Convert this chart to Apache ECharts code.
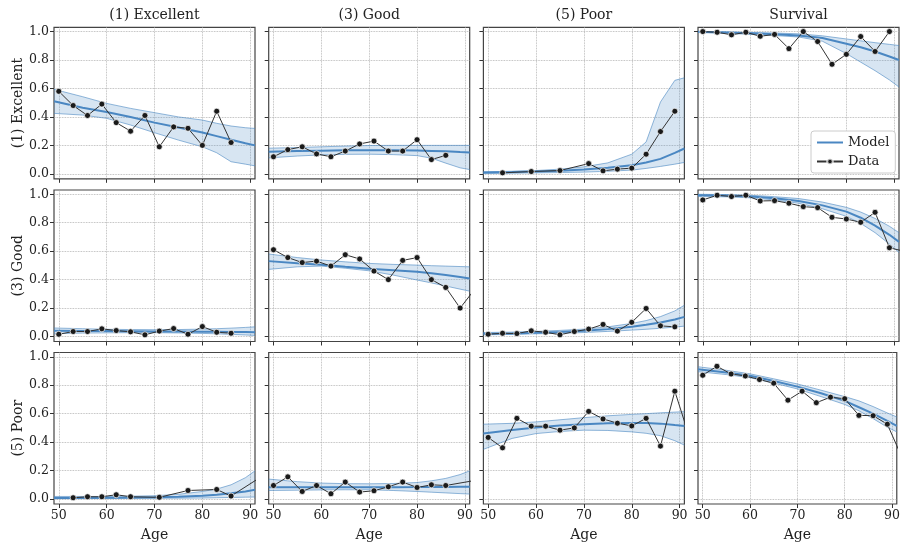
<!DOCTYPE html>
<html>
<head>
<meta charset="utf-8">
<script src="https://cdn.jsdelivr.net/npm/echarts@6/dist/echarts.min.js"></script>
<style>
  html, body { margin: 0; padding: 0; background: #fff; }
  #chart { width: 903px; height: 544px; }
</style>
</head>
<body>
<div id="chart"></div>
<script>
// ages of the observed points (every 3 years)
const dataAges = [50, 53, 56, 59, 62, 65, 68, 71, 74, 77, 80, 83, 86, 89, 92]
// ages where the fitted model and its band were read
const modelAges = [49, 55, 60, 65, 70, 75, 80, 83, 86, 89, 91]
const rowNames = ['(1) Excellent', '(3) Good', '(5) Poor']
const colNames = ['(1) Excellent', '(3) Good', '(5) Poor', 'Survival']
const xTicks = [50, 60, 70, 80, 90]
const yTicks = [0, 0.2, 0.4, 0.6, 0.8, 1.0]

// observed rates, one list per panel (row by row), null = no point at that age
const observed = [
  [0.58, 0.48, 0.41, 0.49, 0.36, 0.30, 0.41, 0.19, 0.33, 0.32, 0.20, 0.44, 0.22, null, null],
  [0.12, 0.17, 0.19, 0.14, 0.12, 0.16, 0.21, 0.23, 0.16, 0.16, 0.24, 0.10, 0.13, null, null],
  [null, 0.007, null, 0.016, null, 0.023, null, 0.072, 0.021, 0.033, 0.04, 0.138, 0.297, 0.44, null],
  [1.0, 0.995, 0.977, 0.995, 0.967, 0.98, 0.88, 1.0, 0.93, 0.77, 0.84, 0.965, 0.86, 1.0, null],

  [0.016, 0.035, 0.035, 0.054, 0.042, 0.033, 0.012, 0.038, 0.056, 0.016, 0.07, 0.03, 0.023, null, null],
  [0.61, 0.555, 0.52, 0.53, 0.495, 0.575, 0.545, 0.46, 0.40, 0.535, 0.555, 0.40, 0.345, 0.20, 0.33],
  [0.016, 0.023, 0.021, 0.04, 0.03, 0.012, 0.035, 0.052, 0.085, 0.038, 0.10, 0.197, 0.075, 0.068, null],
  [0.96, 0.993, 0.984, 0.993, 0.953, 0.955, 0.937, 0.913, 0.906, 0.838, 0.826, 0.803, 0.873, 0.624, 0.60],

  [null, 0.009, 0.016, 0.016, 0.03, 0.016, null, 0.012, null, 0.06, null, 0.067, 0.021, null, 0.15],
  [0.095, 0.156, 0.053, 0.095, 0.037, 0.119, 0.049, 0.058, 0.086, 0.119, 0.081, 0.10, 0.095, null, 0.13],
  [0.433, 0.36, 0.567, 0.512, 0.512, 0.484, 0.50, 0.616, 0.563, 0.533, 0.514, 0.567, 0.372, 0.758, 0.44],
  [0.87, 0.933, 0.879, 0.865, 0.84, 0.814, 0.695, 0.758, 0.677, 0.716, 0.705, 0.588, 0.586, 0.526, 0.30]
]

// model curve
const modelMid = [
  [0.51, 0.465, 0.435, 0.40, 0.36, 0.325, 0.29, 0.265, 0.24, 0.215, 0.20],
  [0.155, 0.16, 0.163, 0.165, 0.166, 0.166, 0.164, 0.161, 0.158, 0.153, 0.15],
  [0.009, 0.012, 0.016, 0.022, 0.030, 0.043, 0.061, 0.08, 0.105, 0.147, 0.178],
  [0.998, 0.994, 0.988, 0.981, 0.972, 0.955, 0.915, 0.89, 0.86, 0.825, 0.80],

  [0.04, 0.039, 0.038, 0.037, 0.036, 0.035, 0.034, 0.033, 0.032, 0.031, 0.03],
  [0.53, 0.515, 0.505, 0.49, 0.477, 0.466, 0.455, 0.445, 0.432, 0.418, 0.408],
  [0.019, 0.022, 0.026, 0.032, 0.04, 0.052, 0.068, 0.082, 0.098, 0.12, 0.138],
  [0.993, 0.992, 0.985, 0.972, 0.953, 0.922, 0.878, 0.835, 0.78, 0.715, 0.665],

  [0.007, 0.008, 0.009, 0.01, 0.012, 0.016, 0.023, 0.03, 0.04, 0.053, 0.065],
  [0.082, 0.082, 0.082, 0.082, 0.082, 0.083, 0.084, 0.085, 0.085, 0.086, 0.086],
  [0.46, 0.485, 0.502, 0.516, 0.526, 0.532, 0.535, 0.534, 0.53, 0.52, 0.514],
  [0.912, 0.89, 0.867, 0.83, 0.79, 0.743, 0.69, 0.645, 0.60, 0.55, 0.515]
]

// upper edge of the band
const modelHigh = [
  [0.594, 0.542, 0.495, 0.46, 0.43, 0.40, 0.378, 0.355, 0.336, 0.324, 0.319],
  [0.18, 0.185, 0.19, 0.195, 0.199, 0.20, 0.20, 0.20, 0.20, 0.20, 0.20],
  [0.014, 0.018, 0.023, 0.033, 0.049, 0.077, 0.138, 0.224, 0.505, 0.657, 0.675],
  [1.0, 0.997, 0.993, 0.99, 0.984, 0.97, 0.948, 0.935, 0.922, 0.91, 0.902],

  [0.06, 0.055, 0.051, 0.049, 0.048, 0.049, 0.052, 0.055, 0.059, 0.064, 0.068],
  [0.58, 0.555, 0.538, 0.525, 0.514, 0.507, 0.502, 0.498, 0.495, 0.492, 0.49],
  [0.028, 0.031, 0.036, 0.043, 0.052, 0.068, 0.092, 0.112, 0.14, 0.18, 0.22],
  [1.0, 0.998, 0.993, 0.983, 0.97, 0.945, 0.908, 0.875, 0.83, 0.775, 0.73],

  [0.018, 0.018, 0.018, 0.02, 0.023, 0.033, 0.053, 0.07, 0.10, 0.15, 0.198],
  [0.14, 0.122, 0.112, 0.108, 0.107, 0.109, 0.116, 0.128, 0.145, 0.172, 0.198],
  [0.526, 0.532, 0.542, 0.557, 0.572, 0.585, 0.595, 0.60, 0.606, 0.611, 0.614],
  [0.93, 0.905, 0.88, 0.845, 0.809, 0.765, 0.72, 0.69, 0.65, 0.605, 0.577]
]

// lower edge of the band
const modelLow = [
  [0.425, 0.413, 0.39, 0.343, 0.289, 0.237, 0.19, 0.148, 0.085, 0.068, 0.056],
  [0.112, 0.125, 0.133, 0.137, 0.138, 0.135, 0.128, 0.11, 0.075, 0.042, 0.03],
  [0.002, 0.004, 0.007, 0.009, 0.012, 0.018, 0.026, 0.038, 0.052, 0.068, 0.08],
  [0.993, 0.988, 0.98, 0.972, 0.962, 0.932, 0.845, 0.785, 0.725, 0.66, 0.61],

  [0.02, 0.024, 0.026, 0.027, 0.027, 0.025, 0.022, 0.019, 0.015, 0.011, 0.008],
  [0.472, 0.49, 0.495, 0.48, 0.462, 0.432, 0.397, 0.377, 0.355, 0.333, 0.319],
  [0.012, 0.015, 0.019, 0.023, 0.028, 0.036, 0.045, 0.051, 0.058, 0.066, 0.073],
  [0.984, 0.982, 0.975, 0.96, 0.937, 0.898, 0.845, 0.795, 0.73, 0.65, 0.59],

  [0.002, 0.003, 0.004, 0.004, 0.005, 0.006, 0.007, 0.009, 0.011, 0.013, 0.014],
  [0.06, 0.062, 0.064, 0.065, 0.065, 0.06, 0.053, 0.048, 0.043, 0.038, 0.035],
  [0.349, 0.426, 0.46, 0.475, 0.484, 0.482, 0.472, 0.462, 0.445, 0.41, 0.379],
  [0.895, 0.875, 0.853, 0.815, 0.774, 0.72, 0.665, 0.62, 0.565, 0.505, 0.472]
]

const FONT = 'DejaVu Serif'
const BLUE = '#4a87c2'
const panelLeft = [54, 268.7, 483.4, 698]
const panelTop = [27.3, 190, 352.5]
const panelW = 201
const panelH = 151.5

let chart = echarts.init(document.getElementById('chart'))

let grids = []
let xAxes = []
let yAxes = []
let series = []
let graphics = []

for (let r = 0; r < 3; r++) {
  for (let c = 0; c < 4; c++) {
    let i = r * 4 + c
    grids.push({
      left: panelLeft[c],
      top: panelTop[r],
      width: panelW,
      height: panelH,
      show: true,
      borderColor: '#444',
      borderWidth: 1.2,
      backgroundColor: 'transparent'
    })
    xAxes.push({
      type: 'value',
      gridIndex: i,
      min: 49,
      max: 91,
      axisLine: { show: false, onZero: false },
      axisTick: { show: true, inside: false, length: 4, customValues: xTicks, lineStyle: { color: '#333' } },
      axisLabel: { show: r === 2, customValues: xTicks, fontFamily: FONT, fontSize: 12.5, color: '#222', margin: 5 },
      splitLine: { show: true, lineStyle: { color: '#aaa', type: 'dotted', width: 0.8 } },
      name: r === 2 ? 'Age' : '',
      nameLocation: 'middle',
      nameGap: 24,
      nameTextStyle: { fontFamily: FONT, fontSize: 14, color: '#222' }
    })
    yAxes.push({
      type: 'value',
      gridIndex: i,
      min: -0.035,
      max: 1.03,
      axisLine: { show: false, onZero: false },
      axisTick: { show: true, inside: false, length: 4, customValues: yTicks, lineStyle: { color: '#333' } },
      axisLabel: {
        show: c === 0, customValues: yTicks, fontFamily: FONT, fontSize: 12.5, color: '#222', margin: 5,
        formatter: v => v.toFixed(1)
      },
      splitLine: { show: true, lineStyle: { color: '#aaa', type: 'dotted', width: 0.8 } },
      name: c === 0 ? rowNames[r] : '',
      nameLocation: 'middle',
      nameRotate: 90,
      nameGap: 28,
      nameTextStyle: { fontFamily: FONT, fontSize: 14, color: '#222' }
    })

    let hi = modelHigh[i]
    let lo = modelLow[i]
    // shaded band between the lower and upper edge
    series.push({
      type: 'custom',
      name: 'band',
      xAxisIndex: i,
      yAxisIndex: i,
      silent: true,
      data: [[70, 0.5]],
      renderItem: (params, api) => {
        let pts = []
        modelAges.forEach((a, k) => pts.push(api.coord([a, hi[k]])))
        for (let k = modelAges.length - 1; k >= 0; k--) pts.push(api.coord([modelAges[k], lo[k]]))
        return { type: 'polygon', shape: { points: pts }, style: { fill: 'rgba(74,135,194,0.22)' } }
      },
      z: 1
    })
    // band edges
    ;[hi, lo].forEach(edge => {
      series.push({
        type: 'line',
        name: 'edge',
        xAxisIndex: i,
        yAxisIndex: i,
        symbol: 'none',
        silent: true,
        data: modelAges.map((a, k) => [a, edge[k]]),
        lineStyle: { color: 'rgba(74,135,194,0.6)', width: 1 },
        z: 2
      })
    })
    series.push({
      type: 'line',
      name: 'Model',
      xAxisIndex: i,
      yAxisIndex: i,
      symbol: 'none',
      data: modelAges.map((a, k) => [a, modelMid[i][k]]),
      lineStyle: { color: BLUE, width: 2 },
      itemStyle: { color: BLUE },
      z: 3
    })
    series.push({
      type: 'line',
      name: 'Data',
      xAxisIndex: i,
      yAxisIndex: i,
      symbol: 'circle',
      symbolSize: 6,
      connectNulls: true,
      clip: true,
      data: dataAges.map((a, k) => [a, observed[i][k]]),
      lineStyle: { color: '#333', width: 1 },
      itemStyle: { color: '#1a1a1a', borderColor: 'rgba(255,255,255,0.7)', borderWidth: 1 },
      z: 4
    })
  }
}

// column titles
colNames.forEach((name, c) => {
  graphics.push({
    type: 'text',
    x: panelLeft[c] + panelW / 2,
    y: 15,
    style: { text: name, fill: '#222', font: '14px "' + FONT + '"', align: 'center', verticalAlign: 'middle' }
  })
})

let option = {
  backgroundColor: '#fff',
  animation: false,
  grid: grids,
  xAxis: xAxes,
  yAxis: yAxes,
  series: series,
  graphic: graphics,
  legend: {
    data: [
      { name: 'Model', itemStyle: { opacity: 0 } },
      { name: 'Data' }
    ],
    orient: 'vertical',
    left: 811,
    top: 131,
    selectedMode: false,
    backgroundColor: '#fff',
    borderColor: '#ccc',
    borderWidth: 1,
    borderRadius: 3,
    padding: [5, 6, 5, 5],
    itemGap: 6,
    itemWidth: 26,
    itemHeight: 7,
    textStyle: { fontFamily: FONT, fontSize: 13, color: '#222' }
  }
}

chart.setOption(option)
</script>
</body>
</html>
